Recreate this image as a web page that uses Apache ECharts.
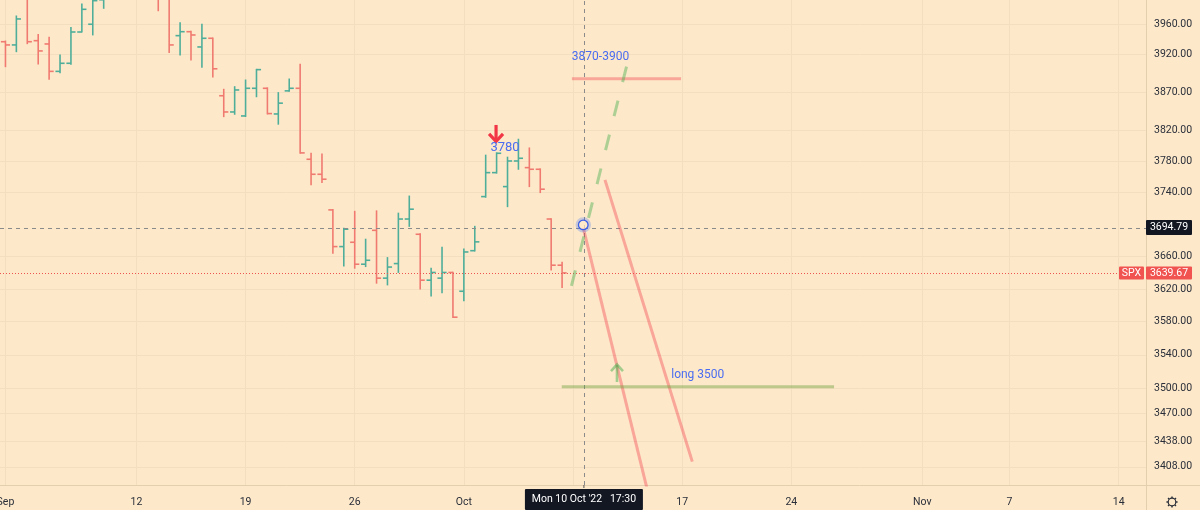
<!DOCTYPE html>
<html>
<head>
<meta charset="utf-8">
<script src="https://cdn.jsdelivr.net/npm/echarts@6/dist/echarts.min.js"></script>
<style>
html,body{margin:0;padding:0;background:#fde9ca;}
#chart{width:1200px;height:510px;}
</style>
</head>
<body>
<div id="chart"></div>
<script>
// ---------- time axis (trading sessions, two 4h bars per day) ----------
const sessionDays = [
  'Sep 1','Sep 2','Sep 6','Sep 7','Sep 8','Sep 9','Sep 12','Sep 13','Sep 14','Sep 15','Sep 16',
  'Sep 19','Sep 20','Sep 21','Sep 22','Sep 23','Sep 26','Sep 27','Sep 28','Sep 29','Sep 30',
  'Oct 3','Oct 4','Oct 5','Oct 6','Oct 7','Oct 10','Oct 11','Oct 12','Oct 13','Oct 14',
  'Oct 17','Oct 18','Oct 19','Oct 20','Oct 21','Oct 24','Oct 25','Oct 26','Oct 27','Oct 28','Oct 31',
  'Nov 1','Nov 2','Nov 3','Nov 4','Nov 7','Nov 8','Nov 9','Nov 10','Nov 11','Nov 14','Nov 15'
];
const sessionTimes = ['09:30', '13:30'];

// ---------- SPX 4h OHLC (Sep 1 - Oct 7, 2022) ----------
const opens = [
  3936.6, 3932.3, 3995.0, 3938.0, 3933.6, 3897.2, 3907.9, 3949.6, 3960.0, 3993.0,
  4022.9, 4061.0, 4083.7, 4104.0, 4020.0, 3996.0, 3944.7, 3950.0, 3929.6, 3941.2,
  3865.1, 3843.9, 3838.7, 3874.9, 3874.9, 3841.3, 3871.5, 3874.9, 3782.7, 3763.5,
  3718.3, 3672.3, 3677.7, 3650.4, 3692.6, 3633.2, 3651.2, 3706.8, 3687.7, 3630.7,
  3633.2, 3640.2, 3617.1, 3667.2, 3735.1, 3765.6, 3747.8, 3780.5, 3772.0, 3769.9,
  3706.8, 3649.2
];
const highs = [
  3937.5, 3971.1, 4018.4, 3946.4, 3942.5, 3919.0, 3955.7, 3987.3, 3997.0, 4010.5,
  4068.0, 4076.8, 4115.0, 4119.3, 4025.0, 3998.0, 3962.1, 3950.5, 3960.0, 3941.5,
  3873.6, 3877.0, 3885.8, 3899.9, 3875.5, 3869.2, 3887.1, 3906.7, 3790.4, 3789.5,
  3718.8, 3695.2, 3716.5, 3681.5, 3717.1, 3658.6, 3714.2, 3735.8, 3688.2, 3645.5,
  3671.5, 3640.6, 3669.3, 3697.6, 3788.0, 3791.0, 3785.4, 3808.5, 3797.3, 3770.4,
  3707.3, 3652.9
];
const lows = [
  3903.4, 3923.3, 3934.0, 3907.0, 3886.7, 3895.4, 3906.6, 3949.6, 3945.7, 3981.5,
  4022.9, 4052.0, 4083.7, 4096.0, 3978.2, 3922.1, 3919.0, 3912.3, 3902.6, 3889.9,
  3837.8, 3840.9, 3838.0, 3863.8, 3841.3, 3828.0, 3871.0, 3790.4, 3750.0, 3752.9,
  3664.1, 3648.3, 3645.5, 3647.5, 3627.0, 3624.9, 3640.3, 3697.6, 3620.0, 3611.2,
  3615.3, 3585.0, 3605.6, 3666.8, 3734.3, 3765.0, 3722.4, 3769.9, 3747.8, 3740.2,
  3643.4, 3621.8
];
const closes = [
  3932.3, 3967.1, 3936.6, 3924.3, 3897.2, 3907.9, 3949.6, 3980.1, 3991.8, 4006.2,
  4061.0, 4067.4, 4104.0, 4110.4, 3996.0, 3932.3, 3950.0, 3945.6, 3941.2, 3900.6,
  3843.9, 3872.7, 3874.9, 3899.5, 3841.8, 3855.4, 3874.9, 3790.9, 3763.5, 3757.2,
  3672.3, 3694.0, 3650.4, 3655.3, 3633.2, 3646.9, 3706.8, 3719.2, 3630.7, 3640.2,
  3640.2, 3585.4, 3665.6, 3678.2, 3765.6, 3790.4, 3780.5, 3784.0, 3769.9, 3744.5,
  3649.2, 3639.67
];

const symbol = 'SPX';
const lastPrice = 3639.67;
const crosshairPrice = 3694.79;
const crosshairBar = 53;
const crosshairText = "Mon 10 Oct '22   17:30";

// ---------- axis ticks ----------
const yTicks = [3408, 3438, 3470, 3500, 3540, 3580, 3620, 3660, 3740, 3780, 3820, 3870, 3920, 3960];
const yMin = 3387.0, yMax = 3992.7;
const xTickDays = ['Sep 1', 'Sep 12', 'Sep 19', 'Sep 26', 'Oct 3', 'Oct 17', 'Oct 24', 'Nov 1', 'Nov 7', 'Nov 14'];
const xTickText = ['Sep', '12', '19', '26', 'Oct', '17', '24', 'Nov', '7', '14'];
const xGridDays = ['Sep 1', 'Sep 12', 'Sep 19', 'Sep 26', 'Oct 3', 'Oct 10', 'Oct 17', 'Oct 24', 'Nov 1', 'Nov 7', 'Nov 14'];

// ---------- drawings (bar index, price) ----------
const targetLine = [[51.9, 3887.5], [61.9, 3887.5]];
const bullPath = [[51.86, 3623.7], [56.98, 3907.9]];
const bearPath1 = [[52.94, 3695.6], [59.15, 3364.0]];
const bearPath2 = [[54.93, 3756.3], [62.93, 3413.9]];
const supportLine = [[50.97, 3501.8], [75.92, 3501.8]];
const sellArrow = [[44.95, 3827.0, 3806.3]];   // index, tail, tip
const buyArrow = [[56.03, 3507.4, 3527.7]];
const pivotPoint = [[52.94, 3699.4]];
const noteTexts = ['3780', '3870-3900', 'long 3500'];
const noteAnchors = [[45.77, 3797.9], [54.52, 3916.3], [63.43, 3515.7]];

// ---------- build ----------
const categories = [];
sessionDays.forEach(d => sessionTimes.forEach(t => categories.push(d + ' ' + t)));
const barIndex = d => sessionDays.indexOf(d) * 2;
const xTickIdx = xTickDays.map(barIndex);
const xGridIdx = xGridDays.map(barIndex);
const ohlc = opens.map((o, i) => [i, o, highs[i], lows[i], closes[i]]);

const UP = '#4fae9a', DOWN = '#f07a70';
const BG = '#fde9ca', GRID = '#f3dfc0', AXIS = '#e3cfae', TXT = '#2a2e39';
const FONT = 'Roboto, "Liberation Sans", sans-serif';

function barRender(params, api) {
  const i = api.value(0);
  const pO = api.coord([i, api.value(1)]);
  const pH = api.coord([i, api.value(2)]);
  const pL = api.coord([i, api.value(3)]);
  const pC = api.coord([i, api.value(4)]);
  const tick = api.coord([i + 0.42, api.value(1)])[0] - pO[0];
  const color = api.value(4) >= api.value(1) ? UP : DOWN;
  const st = {stroke: color, lineWidth: 1.6};
  return {type: 'group', children: [
    {type: 'line', shape: {x1: pH[0], y1: pH[1] - 0.5, x2: pL[0], y2: pL[1] + 0.5}, style: st},
    {type: 'line', shape: {x1: pO[0] - tick, y1: pO[1], x2: pO[0], y2: pO[1]}, style: st},
    {type: 'line', shape: {x1: pC[0], y1: pC[1], x2: pC[0] + tick, y2: pC[1]}, style: st}
  ]};
}

function arrowRender(color, width, head) {
  return function (params, api) {
    const a = api.coord([api.value(0), api.value(1)]);
    const b = api.coord([api.value(0), api.value(2)]);
    const dir = b[1] > a[1] ? 1 : -1;
    return {type: 'group', children: [
      {type: 'line', shape: {x1: a[0], y1: a[1], x2: b[0], y2: b[1]},
        style: {stroke: color, lineWidth: width}},
      {type: 'polyline', shape: {points: [[b[0] - head, b[1] - dir * head], [b[0], b[1] + dir * 0.5], [b[0] + head, b[1] - dir * head]]},
        style: {stroke: color, lineWidth: width, fill: null}}
    ]};
  };
}

function drawLine(data, color, width, type) {
  return {
    type: 'line', data: data, showSymbol: false, symbol: 'none', silent: true, z: 5,
    lineStyle: {color: color, width: width, type: type || 'solid', cap: 'butt'},
    clip: true, animation: false
  };
}

const chart = echarts.init(document.getElementById('chart'), null, {renderer: 'canvas'});

const option = {
  backgroundColor: BG,
  animation: false,
  grid: {left: 0, right: 54, top: 0, bottom: 25, containLabel: false, outerBoundsMode: 'none'},
  xAxis: {
    type: 'value', min: -0.5, max: 104.5,
    axisLine: {show: true, onZero: false, lineStyle: {color: AXIS, width: 1}},
    axisTick: {show: false, customValues: xGridIdx},
    axisLabel: {
      customValues: xTickIdx, color: TXT, fontSize: 10.5, fontFamily: FONT, margin: 12,
      formatter: v => { const k = xTickIdx.indexOf(Math.round(v)); return k >= 0 ? xTickText[k] : ''; }
    },
    splitLine: {show: true, lineStyle: {color: GRID, width: 1}}
  },
  yAxis: {
    type: 'log', logBase: 10, position: 'right', min: yMin, max: yMax,
    axisLine: {show: true, onZero: false, lineStyle: {color: AXIS, width: 1}},
    axisTick: {show: false, customValues: yTicks},
    axisLabel: {
      customValues: yTicks, color: TXT, fontSize: 10.5, fontFamily: FONT, margin: 8,
      formatter: v => Number(v).toFixed(2)
    },
    splitLine: {show: true, lineStyle: {color: GRID, width: 1}}
  },
  series: [
    {
      type: 'custom', name: symbol, data: ohlc, renderItem: barRender, z: 3,
      dimensions: ['idx', 'open', 'high', 'low', 'close'],
      encode: {x: 0, y: [1, 2, 3, 4]},
      markLine: {
        silent: true, symbol: 'none', animation: false, label: {show: false},
        data: [
          {yAxis: lastPrice, lineStyle: {color: '#ef5350', width: 1, type: [1, 2]}},
          {yAxis: crosshairPrice, lineStyle: {color: '#8b8b8b', width: 1, type: [4, 4]}},
          {xAxis: crosshairBar, lineStyle: {color: '#8b8b8b', width: 1, type: [4, 4]}}
        ]
      }
    },
    drawLine(targetLine, 'rgba(242,54,69,0.38)', 3),
    drawLine(bearPath1, 'rgba(242,54,69,0.38)', 3),
    drawLine(bearPath2, 'rgba(242,54,69,0.38)', 3),
    drawLine(supportLine, 'rgba(110,160,60,0.45)', 3),
    drawLine(bullPath, 'rgba(76,175,80,0.45)', 3, [16, 19]),
    {
      type: 'custom', data: sellArrow, z: 6, encode: {x: 0, y: [1, 2]},
      renderItem: arrowRender('#f23645', 3.2, 7)
    },
    {
      type: 'custom', data: buyArrow, z: 6, encode: {x: 0, y: [1, 2]},
      renderItem: arrowRender('rgba(76,175,80,0.5)', 2.6, 6)
    },
    {
      type: 'custom', data: pivotPoint, z: 7, encode: {x: 0, y: 1},
      renderItem: function (params, api) {
        const p = api.coord([api.value(0), api.value(1)]);
        return {type: 'group', children: [
          {type: 'circle', shape: {cx: p[0], cy: p[1], r: 6.2}, style: {fill: null, stroke: 'rgba(41,98,255,0.25)', lineWidth: 3}},
          {type: 'circle', shape: {cx: p[0], cy: p[1], r: 4.8}, style: {fill: 'rgba(253,233,202,0.7)', stroke: '#3c5fe8', lineWidth: 1.3}}
        ]};
      }
    },
    {
      type: 'custom', data: noteAnchors, z: 8, encode: {x: 0, y: 1},
      renderItem: function (params, api) {
        const p = api.coord([api.value(0), api.value(1)]);
        const size = params.dataIndex === 0 ? 13 : 12;
        return {type: 'text', x: p[0], y: p[1], style: {
          text: noteTexts[params.dataIndex], fill: '#4a6cf0',
          font: size + 'px ' + FONT, align: 'center', verticalAlign: 'middle'
        }};
      }
    }
  ]
};

chart.setOption(option);

// ---------- price / time scale labels ----------
const pc = chart.convertToPixel({gridIndex: 0}, [crosshairBar, crosshairPrice]);
const pl = chart.convertToPixel({gridIndex: 0}, [crosshairBar, lastPrice]);
const axisY = 510 - 25;
const axisX = 1200 - 54;
function box(x, y, w, h, fill, text) {
  return [
    {type: 'rect', z: 100, shape: {x: x, y: y, width: w, height: h, r: 1}, style: {fill: fill}},
    {type: 'text', z: 101, x: x + w / 2, y: y + h / 2, style: {
      text: text, fill: '#ffffff', font: '10.5px ' + FONT, align: 'center', verticalAlign: 'middle'}}
  ];
}
const gear = [];
const gcx = 1172, gcy = 502;
for (let k = 0; k < 8; k++) {
  const a = k * Math.PI / 4;
  gear.push({type: 'line', z: 100, shape: {
    x1: gcx + Math.cos(a) * 3.6, y1: gcy + Math.sin(a) * 3.6,
    x2: gcx + Math.cos(a) * 5.6, y2: gcy + Math.sin(a) * 5.6}, style: {stroke: '#2a2e39', lineWidth: 1.4}});
}
gear.push({type: 'circle', z: 100, shape: {cx: gcx, cy: gcy, r: 3.8}, style: {fill: BG, stroke: '#2a2e39', lineWidth: 1.2}});

chart.setOption({
  graphic: [].concat(
    [{type: 'line', z: 99, shape: {x1: axisX + 0.5, y1: axisY, x2: axisX + 0.5, y2: 510}, style: {stroke: AXIS, lineWidth: 1}},
     {type: 'line', z: 99, shape: {x1: axisX, y1: axisY + 0.5, x2: 1200, y2: axisY + 0.5}, style: {stroke: AXIS, lineWidth: 1}}],
    box(axisX, pc[1] - 8.5, 46, 15, '#131722', crosshairPrice.toFixed(2)),
    box(axisX - 27, pl[1] - 6.5, 25, 13, '#f05350', symbol),
    box(axisX, pl[1] - 6.5, 46, 13, '#f05350', lastPrice.toFixed(2)),
    box(pc[0] - 59, axisY + 4, 118, 21, '#131722', crosshairText),
    [{type: 'line', z: 100, shape: {x1: pc[0], y1: axisY, x2: pc[0], y2: axisY + 3}, style: {stroke: '#555', lineWidth: 1}}],
    gear
  )
});
</script>
</body>
</html>
